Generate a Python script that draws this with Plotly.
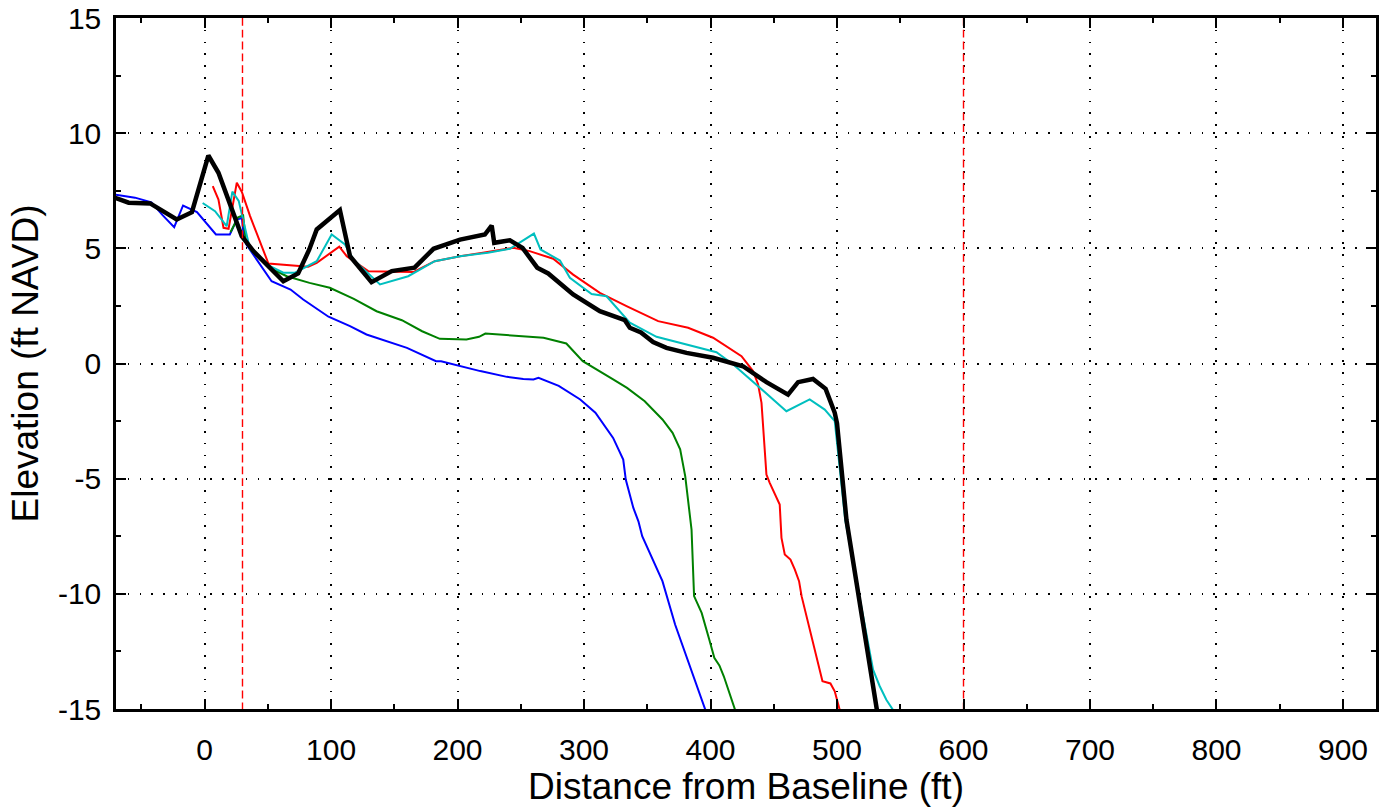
import plotly.graph_objects as go

# ---- data ----
blue_x = [-72, -55, -42, -33, -24, -17, -6, 9, 20, 23, 25.5, 29.5, 31, 33, 53, 68, 78, 98, 115, 128,
          160, 183, 187, 218, 239, 252, 260, 264, 280, 297, 309, 323, 331, 333, 339, 343, 346, 362, 372, 396]
blue_y = [7.34, 7.2, 7.0, 6.43, 5.92, 6.86, 6.57, 5.6, 5.6, 5.96, 6.25, 6.32, 5.53, 5.17, 3.57, 3.21, 2.78, 2.03, 1.62, 1.26,
          0.68, 0.1, 0.1, -0.33, -0.58, -0.67, -0.69, -0.62, -0.97, -1.56, -2.14, -3.23, -4.17, -5.04, -6.27, -6.85, -7.5, -9.45, -11.33, -15.05]

green_x = [20.5, 26.5, 30.5, 32.5, 40, 54, 65, 83, 99, 107, 118, 136, 156, 172, 186, 207, 217, 222, 268, 286,
           299, 323, 334, 348, 362, 370, 376, 380, 385, 387, 393, 399, 403, 407, 410.5, 419.5]
green_y = [5.7, 6.35, 6.43, 5.38, 4.75, 4.08, 3.79, 3.5, 3.29, 3.1, 2.81, 2.27, 1.88, 1.4, 1.07, 1.04, 1.16, 1.3, 1.12, 0.87,
           0.1, -0.69, -1.06, -1.64, -2.43, -3.01, -3.73, -4.89, -7.21, -10.1, -10.83, -11.98, -12.78, -13.11, -13.58, -15.05]

red_x = [6.5, 11, 15, 19, 25.5, 29.5, 36, 50.5, 82, 88.7, 106.5, 112.4, 129.4, 165, 182, 202, 220, 244, 257, 275.6,
         291.4, 312.5, 333.6, 358.6, 382.3, 402, 424.5, 433.6, 437.6, 440.3, 444.2, 446.8, 454.7, 456.1, 458.7, 463.2,
         466.6, 470, 472, 488.5, 494.8, 498.2, 502.2]
red_y = [7.7, 7.12, 5.89, 5.85, 7.85, 7.45, 6.4, 4.34, 4.2, 4.37, 5.07, 4.66, 4.01, 3.97, 4.44, 4.66, 4.81, 5.02, 4.88, 4.55,
         3.86, 3.07, 2.49, 1.84, 1.55, 1.12, 0.32, -0.33, -0.9, -1.71, -4.82, -5.18, -6.12, -7.57, -8.29, -8.51,
         -8.94, -9.45, -10.1, -13.79, -13.89, -14.23, -15.05]

cyan_x = [-1.5, 8.3, 17.5, 22, 27, 33.3, 36, 49, 62.3, 71.5, 88.7, 100.5, 111, 117.6, 138.7, 161, 182, 202, 224, 241.4,
          260.4, 265.6, 281, 288.8, 306, 317.8, 336.2, 357.3, 404.7, 418, 460, 478.4, 490.3, 498.2, 506.5, 528.5,
          533.7, 539, 545]
cyan_y = [6.97, 6.61, 5.96, 7.46, 7.06, 5.67, 4.95, 4.3, 3.94, 3.94, 4.44, 5.6, 5.17, 4.52, 3.43, 3.79, 4.44, 4.66, 4.81, 4.98,
          5.64, 4.95, 4.47, 3.72, 3.02, 2.92, 1.77, 1.16, 0.49, -0.04, -2.07, -1.56, -2.0, -2.5, -6.8, -13.29,
          -14.0, -14.6, -15.1]

black_x = [-72, -60, -43, -22, -10, 3, 11, 17.5, 29.4, 38.6, 50.4, 62.3, 74, 82.8, 88.7, 107, 115, 132, 148, 166,
           181, 202, 221.6, 227, 229, 241.4, 251.4, 263, 271.7, 291.4, 312.5, 332.3, 336.2, 345, 354.6, 365.2, 381,
           402, 425.7, 444.2, 461.3, 469.2, 481, 491, 498.2, 500, 507.5, 532]
black_y = [7.22, 6.98, 6.95, 6.25, 6.57, 9.03, 8.28, 7.26, 5.53, 4.88, 4.23, 3.57, 3.91, 4.95, 5.82, 6.66, 4.66, 3.53, 4.01, 4.16,
           4.98, 5.38, 5.6, 5.99, 5.24, 5.35, 5.02, 4.16, 3.91, 3.0, 2.27, 1.88, 1.55, 1.35, 0.93, 0.68, 0.46,
           0.25, -0.12, -0.81, -1.35, -0.81, -0.67, -1.1, -2.14, -2.6, -6.8, -15.2]

vline_x = [30, 600]

x_range = [-70, 926.1]
y_range = [-15, 15]
x_ticks = [0, 100, 200, 300, 400, 500, 600, 700, 800, 900]
y_ticks = [-15, -10, -5, 0, 5, 10, 15]

TICK_FONT = dict(family="Liberation Sans, Arial, sans-serif", size=30, color="black")
TITLE_FONT = dict(family="Liberation Sans, Arial, sans-serif", size=37, color="black")

fig = go.Figure()

series = [
    (blue_x, blue_y, "#0000ff", 2),
    (green_x, green_y, "#008000", 2),
    (red_x, red_y, "#ff0000", 2),
    (cyan_x, cyan_y, "#00bfbf", 2),
    (black_x, black_y, "#000000", 4.5),
]
for xs, ys, col, w in series:
    fig.add_trace(go.Scatter(x=xs, y=ys, mode="lines", line=dict(color=col, width=w),
                             showlegend=False))

# dashed reference lines, drawn top-down so the dash period lines up with the dotted grid
for vx in vline_x:
    fig.add_trace(go.Scatter(x=[vx, vx], y=[y_range[1], y_range[0]], mode="lines",
                             line=dict(color="#ff0000", width=1.4, dash="7.8px,4px"),
                             showlegend=False, hoverinfo="skip"))

axis_common = dict(
    showline=True, linecolor="black", linewidth=2.5, mirror="ticks",
    ticks="inside", ticklen=10, tickwidth=2, tickcolor="black",
    showgrid=True, gridcolor="black", gridwidth=1.5, griddash="1.5px,10.3px",
    zeroline=False, tickfont=TICK_FONT,
)

fig.update_xaxes(
    range=x_range, tickmode="array", tickvals=x_ticks, ticktext=[str(v) for v in x_ticks],
    minor=dict(ticks="inside", ticklen=5, tickwidth=2, tickcolor="black", dtick=50, tick0=0, showgrid=False),
    title=dict(text="Distance from Baseline (ft)", font=TITLE_FONT, standoff=6),
    ticklabelstandoff=12,
    **axis_common,
)
fig.update_yaxes(
    range=y_range, tickmode="array", tickvals=y_ticks, ticktext=[str(v) for v in y_ticks],
    minor=dict(ticks="inside", ticklen=5, tickwidth=2, tickcolor="black", dtick=2.5, tick0=0, showgrid=False),
    title=dict(text="Elevation (ft NAVD)", font=TITLE_FONT, standoff=8),
    ticklabelstandoff=6,
    **axis_common,
)

fig.update_layout(
    width=1388, height=811,
    margin=dict(l=116, r=12, t=18, b=102, autoexpand=False),
    plot_bgcolor="white", paper_bgcolor="white",
    showlegend=False,
)

fig.write_html("out.html", config={"displayModeBar": False},
               post_script="document.body.style.margin='0';document.body.style.overflow='hidden';")
